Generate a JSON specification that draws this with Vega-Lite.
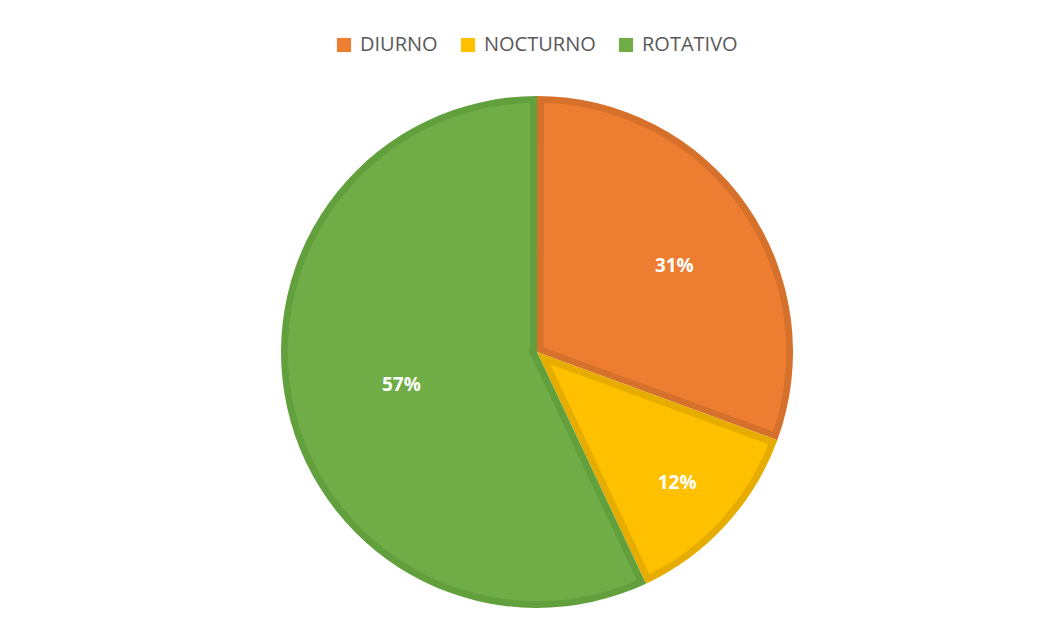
{
  "$schema": "https://vega.github.io/schema/vega-lite/v6.json",
  "width": 514,
  "height": 512,
  "autosize": {"type": "none"},
  "padding": {"left": 280, "top": 96, "right": 265, "bottom": 24},
  "background": "white",
  "config": {"view": {"stroke": null}},
  "data": {
    "values": [
      {"cat": "DIURNO", "value": 30.6, "label": "31%"},
      {"cat": "NOCTURNO", "value": 12.4, "label": "12%"},
      {"cat": "ROTATIVO", "value": 57.0, "label": "57%"}
    ]
  },
  "encoding": {
    "theta": {"field": "value", "type": "quantitative", "stack": true},
    "order": {"field": "cat", "type": "ordinal"}
  },
  "layer": [
    {
      "mark": {"type": "arc", "outerRadius": 256},
      "encoding": {
        "color": {
          "field": "cat", "type": "nominal",
          "scale": {"domain": ["DIURNO", "NOCTURNO", "ROTATIVO"], "range": ["#D6712C", "#E6AD00", "#62A03E"]},
          "legend": null
        }
      }
    },
    {
      "mark": {"type": "arc", "outerRadius": 249, "innerRadius": 18, "padAngle": 0.056},
      "encoding": {
        "color": {
          "field": "cat", "type": "nominal",
          "scale": {"domain": ["DIURNO", "NOCTURNO", "ROTATIVO"], "range": ["#ED7D31", "#FFC000", "#70AD47"]},
          "legend": {
            "title": null,
            "orient": "none",
            "legendX": 54,
            "legendY": -61,
            "direction": "horizontal",
            "symbolType": "square",
            "symbolSize": 200,
            "symbolStrokeWidth": 0,
            "symbolOpacity": 1,
            "labelFont": "Open Sans",
            "labelFontSize": 20,
            "labelColor": "#595959",
            "labelOffset": 6,
            "columnPadding": 20
          }
        }
      }
    },
    {
      "mark": {"type": "arc", "outerRadius": 249, "innerRadius": 8, "padAngle": 0.056},
      "encoding": {
        "color": {
          "field": "cat", "type": "nominal",
          "scale": {"domain": ["DIURNO", "NOCTURNO", "ROTATIVO"], "range": ["#ED7D31", "#FFC000", "#70AD47"]},
          "legend": null
        },
        "opacity": {"condition": {"test": "datum.cat === 'NOCTURNO'", "value": 0}, "value": 1}
      }
    },
    {
      "mark": {"type": "text", "radius": 162, "thetaOffset": 0.05, "font": "Open Sans", "fontWeight": "bold", "fontSize": 19, "color": "white"},
      "encoding": {
        "detail": {"field": "cat", "type": "nominal"},
        "text": {"condition": {"test": "datum.cat === 'DIURNO'", "field": "label"}, "value": ""}
      }
    },
    {
      "mark": {"type": "text", "radius": 190, "dy": 3, "font": "Open Sans", "fontWeight": "bold", "fontSize": 19, "color": "white"},
      "encoding": {
        "detail": {"field": "cat", "type": "nominal"},
        "text": {"condition": {"test": "datum.cat === 'NOCTURNO'", "field": "label"}, "value": ""}
      }
    },
    {
      "mark": {"type": "text", "radius": 139, "dy": 3, "font": "Open Sans", "fontWeight": "bold", "fontSize": 19, "color": "white"},
      "encoding": {
        "detail": {"field": "cat", "type": "nominal"},
        "text": {"condition": {"test": "datum.cat === 'ROTATIVO'", "field": "label"}, "value": ""}
      }
    }
  ],
  "resolve": {"scale": {"color": "independent"}}
}
